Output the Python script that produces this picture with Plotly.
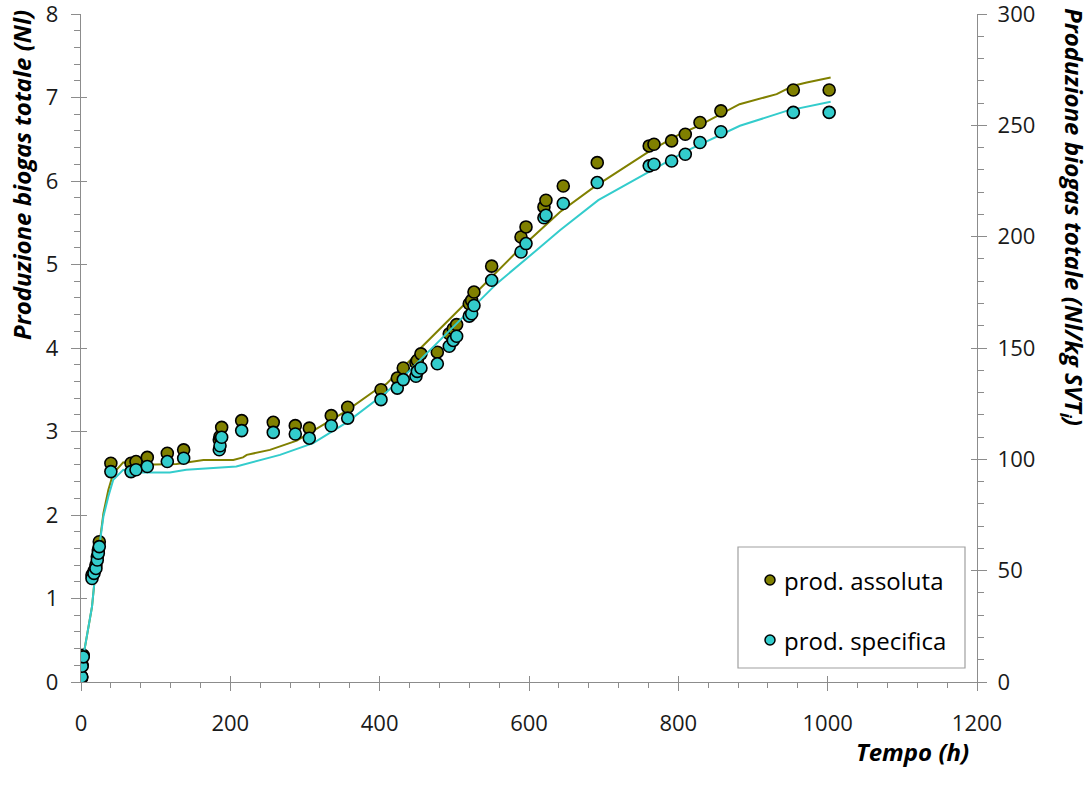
import plotly.graph_objects as go

# ---- data ----
# measured points: time (h)
t_pts = [0, 1, 1.5, 3, 14.7, 17.4, 20, 21.8, 23.2, 24.5, 40, 67, 73.7, 88.8, 115.6, 137.5,
         185.2, 186.2, 188.4, 215.2, 257.5, 287, 305.8, 335.2, 357.2, 401.8, 423.6, 431.6,
         448.6, 450.4, 455.3, 477.2, 493.2, 498.6, 503.1, 520, 523.2, 526.3, 550, 589.3, 596,
         620, 622.7, 645.9, 691.4, 761, 767.4, 791, 809.3, 829, 857, 954, 1002]
# prod. assoluta (Nl) - left axis
assoluta = [0.04, 0.06, 0.20, 0.32, 1.28, 1.33, 1.40, 1.50, 1.58, 1.68, 2.62, 2.62, 2.64, 2.69,
            2.74, 2.78, 2.90, 2.94, 3.05, 3.13, 3.11, 3.07, 3.04, 3.19, 3.29, 3.50, 3.64, 3.76,
            3.82, 3.85, 3.93, 3.95, 4.17, 4.23, 4.28, 4.53, 4.57, 4.67, 4.98, 5.33, 5.45, 5.69,
            5.77, 5.94, 6.22, 6.42, 6.44, 6.48, 6.56, 6.70, 6.84, 7.09, 7.09]
# prod. specifica (Nl/kg SVTi) - right axis
specifica = [1.5, 2.3, 7.1, 11.3, 46.5, 48.8, 51.0, 54.8, 57.8, 60.8, 94.5, 94.5, 95.3, 96.8,
             99.0, 100.5, 104.3, 106.1, 109.9, 112.9, 112.1, 111.4, 109.5, 115.1, 118.5, 126.8,
             132.0, 135.8, 137.3, 139.5, 141.0, 142.9, 150.8, 153.4, 155.3, 164.3, 165.4, 169.1,
             180.4, 193.1, 196.9, 208.5, 209.6, 214.9, 224.3, 231.8, 232.5, 234.0, 237.0, 242.3,
             247.1, 255.8, 255.8]

# fitted curves
t_fit_ass = [0, 3, 14.7, 18.7, 25.4, 30, 36.6, 43.2, 56.6, 70, 128, 164, 204, 217, 222, 253,
             289, 311, 356, 400, 409, 440.6, 456, 507.6, 547.7, 585.6, 641.5, 686, 762, 802,
             829, 882, 931.7, 954, 972, 1004]
fit_ass = [0, 0.30, 0.90, 1.26, 1.70, 2.02, 2.30, 2.50, 2.63, 2.60, 2.61, 2.66, 2.66, 2.69, 2.72,
           2.78, 2.89, 3.01, 3.25, 3.53, 3.57, 3.85, 4.01, 4.47, 4.83, 5.17, 5.63, 5.92, 6.36,
           6.56, 6.67, 6.92, 7.04, 7.14, 7.18, 7.24]
t_fit_spe = [0, 3, 14.7, 18.7, 25.4, 30, 36.6, 43.2, 56.6, 74.6, 119, 141, 208, 266.5, 311, 356,
             409, 440.6, 458, 512, 556.7, 610, 641.5, 692.8, 811, 882.5, 945, 1004]
fit_spe = [0, 11.3, 33.8, 47.3, 63.0, 74.3, 83.3, 90.8, 95.3, 94.1, 94.1, 95.3, 96.8, 102.0,
           107.3, 116.6, 130.1, 139.9, 145.9, 163.9, 178.9, 193.9, 202.9, 216.4, 238.5, 249.8,
           256.5, 260.6]

series_names = ["prod. assoluta", "prod. specifica"]
x_ticks = [0, 200, 400, 600, 800, 1000, 1200]
y_ticks = [0, 1, 2, 3, 4, 5, 6, 7, 8]
y2_ticks = [0, 50, 100, 150, 200, 250, 300]

OLIVE = "#808000"
CYAN = "#33CCCC"
AXC = "#8c8c8c"
FONT = "Open Sans"

TOP = 14
BOT = 682
LEFT = 81
RIGHT = 977

fig = go.Figure()
fig.add_trace(go.Scatter(x=t_fit_ass, y=fit_ass, mode="lines", yaxis="y",
                         line=dict(color=OLIVE, width=2), showlegend=False, hoverinfo="skip"))
fig.add_trace(go.Scatter(x=t_pts, y=assoluta, mode="markers", yaxis="y", name=series_names[0],
                         marker=dict(color=OLIVE, size=12, line=dict(color="black", width=1.6)),
                         showlegend=False))
fig.add_trace(go.Scatter(x=t_fit_spe, y=fit_spe, mode="lines", yaxis="y2",
                         line=dict(color=CYAN, width=2), showlegend=False, hoverinfo="skip"))
fig.add_trace(go.Scatter(x=t_pts, y=specifica, mode="markers", yaxis="y2", name=series_names[1],
                         marker=dict(color=CYAN, size=12, line=dict(color="black", width=1.6)),
                         showlegend=False))

tickfont = dict(family=FONT, size=22, color="#1a1a1a")
common = dict(showgrid=False, zeroline=False, showline=True, linecolor=AXC, linewidth=1.3,
              tickcolor=AXC, tickwidth=1.3, tickfont=tickfont, automargin=False,
              ticklabeloverflow="allow")
inner = dict(ticks="inside", ticklen=6, tickcolor=AXC, tickwidth=1.3, showticklabels=False,
             showline=False, showgrid=False, zeroline=False, automargin=False)

fig.update_layout(
    width=1091, height=794,
    margin=dict(l=LEFT, r=1091 - RIGHT, t=TOP, b=794 - BOT),
    paper_bgcolor="white", plot_bgcolor="white",
    xaxis=dict(range=[0, 1200], tickvals=x_ticks, ticks="outside", ticklen=8,
               ticklabelstandoff=13,
               minor=dict(dtick=40, tick0=0, ticks="outside", ticklen=5, tickcolor=AXC, tickwidth=1.3),
               **common),
    yaxis=dict(range=[0, 8], tickvals=y_ticks, ticks="outside", ticklen=9, ticklabelstandoff=8,
               minor=dict(dtick=0.2, tick0=0, ticks="outside", ticklen=6, tickcolor=AXC, tickwidth=1.3),
               **common),
    yaxis2=dict(range=[0, 300], tickvals=y2_ticks, overlaying="y", side="right", anchor="x",
                ticks="outside", ticklen=9, ticklabelstandoff=6,
                minor=dict(dtick=10, tick0=0, ticks="outside", ticklen=6, tickcolor=AXC, tickwidth=1.3),
                **common),
    # inner halves of the crossing major ticks
    xaxis2=dict(range=[0, 1200], overlaying="x", side="bottom", anchor="y", tickvals=x_ticks, **inner),
    yaxis3=dict(range=[0, 8], tickvals=y_ticks, overlaying="y", side="left", anchor="x", **inner),
    yaxis4=dict(range=[0, 300], tickvals=y2_ticks, overlaying="y", side="right", anchor="x", **inner),
    showlegend=False,
)

# dummy traces so the overlay axes render
fig.add_trace(go.Scatter(x=[None], y=[None], xaxis="x2", yaxis="y3", showlegend=False, hoverinfo="skip"))
fig.add_trace(go.Scatter(x=[None], y=[None], xaxis="x2", yaxis="y4", showlegend=False, hoverinfo="skip"))


def px_x(px):
    return (px - LEFT) / (RIGHT - LEFT)


def px_y(py):
    return (BOT - py) / (BOT - TOP)


titlefont = dict(family=FONT, size=24, color="black")
fig.add_annotation(text="<b><i>Produzione biogas totale (Nl)</i></b>", xref="paper", yref="paper",
                   x=px_x(21), y=px_y(8), textangle=-90, showarrow=False,
                   font=titlefont, xanchor="center", yanchor="top")
fig.add_annotation(text="<b><i>Produzione biogas totale (Nl/kg SVT<sub>i</sub>)</i></b>",
                   xref="paper", yref="paper", x=px_x(1073), y=px_y(6), textangle=90,
                   showarrow=False, font=titlefont, xanchor="center", yanchor="top")
fig.add_annotation(text="<b><i>Tempo (h)</i></b>", xref="paper", yref="paper",
                   x=px_x(912), y=px_y(751), showarrow=False,
                   font=titlefont, xanchor="center", yanchor="middle")

# legend box (drawn manually)
fig.add_shape(type="rect", xref="paper", yref="paper", x0=px_x(738), x1=px_x(965),
              y0=px_y(668), y1=px_y(547), line=dict(color="#a0a0a0", width=1.2), fillcolor="white",
              layer="above")
for name, col, py in [(series_names[0], OLIVE, 580), (series_names[1], CYAN, 640)]:
    fig.add_shape(type="circle", xref="paper", yref="paper", xsizemode="pixel", ysizemode="pixel",
                  xanchor=px_x(770), yanchor=px_y(py), x0=-5, x1=5, y0=-5, y1=5,
                  fillcolor=col, line=dict(color="black", width=1.5), layer="above")
    fig.add_annotation(text=name, xref="paper", yref="paper", x=px_x(782), y=px_y(py),
                       xanchor="left", yanchor="middle", showarrow=False,
                       font=dict(family=FONT, size=24, color="black"))

fig.write_html("out.html", config={"displayModeBar": False},
               post_script="document.body.style.margin='0px';")
